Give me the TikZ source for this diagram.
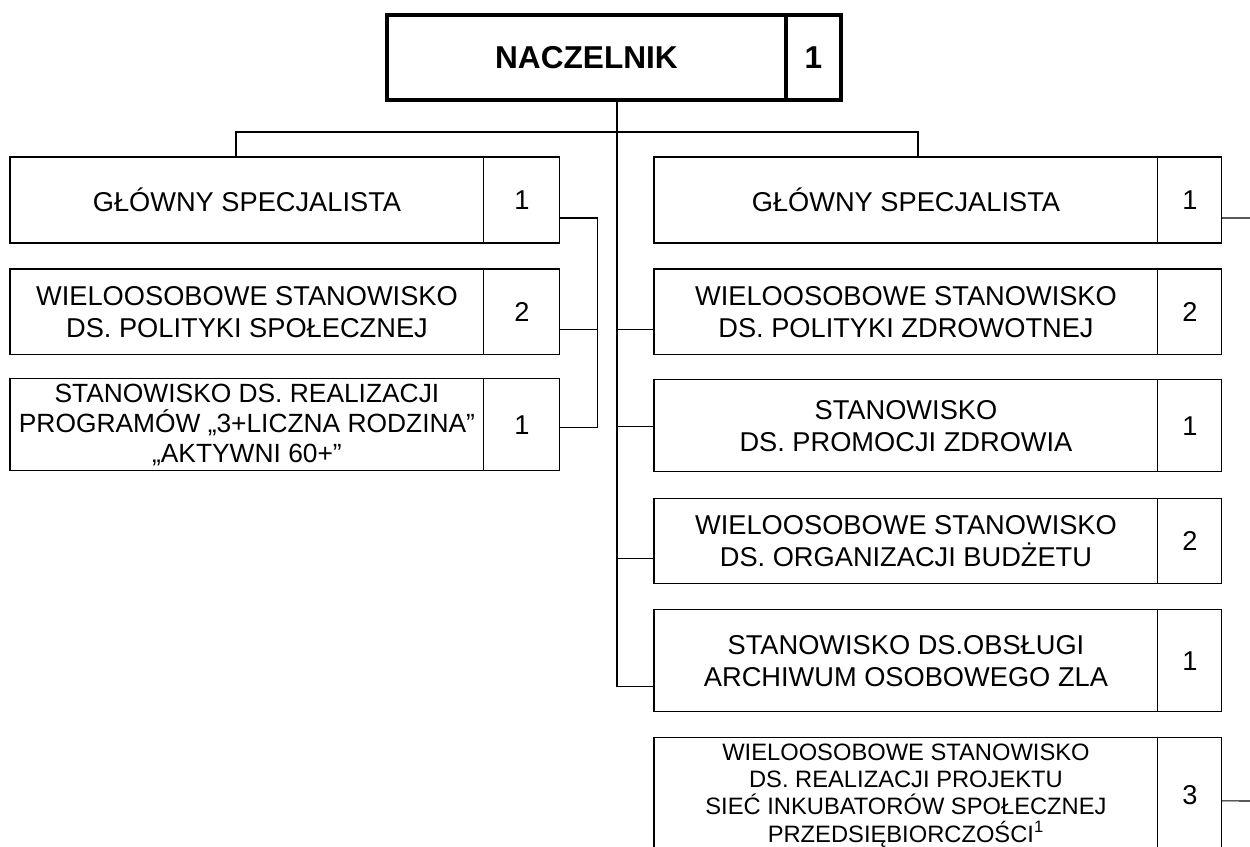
\documentclass[tikz,border=0pt]{standalone}
\usepackage{fontspec}
\setmainfont{Liberation Sans}
\usepackage{tikz}
\usetikzlibrary{positioning, calc}

\begin{document}
\begin{tikzpicture}[
    x=0.02cm, y=-0.02cm,
    cell/.style={rectangle, draw=black, line width=0.6pt, inner sep=0pt, outer sep=0pt,
                 align=center, font=\fontsize{15.5}{18}\selectfont},
    lcell/.style={cell, minimum width=9.48cm, minimum height=1.72cm},
    lnum/.style={cell, minimum width=1.52cm, minimum height=1.72cm},
    rcell/.style={cell, minimum width=10.08cm, minimum height=1.72cm},
    rnum/.style={cell, minimum width=1.28cm, minimum height=1.72cm},
    bossbox/.style={cell, line width=2.3pt, minimum height=1.7cm, font=\fontsize{18}{20}\selectfont\bfseries},
    link/.style={line width=0.6pt}
]
    \clip (0,0) rectangle (1250,846);

    % Naczelnik
    \node[bossbox, minimum width=7.98cm, anchor=north west] (chief) at (387,15) {NACZELNIK};
    \node[bossbox, minimum width=1.1cm, right=0pt of chief] (chiefnum) {1};

    % Left column
    \node[lcell, anchor=north west] (ls1) at (10,157) {GŁÓWNY SPECJALISTA};
    \node[lnum, right=0pt of ls1] (ls1num) {1};
    \node[lcell, below=0.52cm of ls1] (ls2) {WIELOOSOBOWE STANOWISKO\\DS. POLITYKI SPOŁECZNEJ};
    \node[lnum, right=0pt of ls2] (ls2num) {2};
    \node[lcell, minimum height=1.84cm, below=0.48cm of ls2, font=\fontsize{15}{17}\selectfont] (ls3)
        {STANOWISKO DS. REALIZACJI\\PROGRAMÓW „3+LICZNA RODZINA”\\„AKTYWNI 60+”};
    \node[lnum, minimum height=1.84cm, right=0pt of ls3] (ls3num) {1};

    % Right column
    \node[rcell, anchor=north west] (rs1) at (654,157) {GŁÓWNY SPECJALISTA};
    \node[rnum, right=0pt of rs1] (rs1num) {1};
    \node[rcell, below=0.52cm of rs1] (rs2) {WIELOOSOBOWE STANOWISKO\\DS. POLITYKI ZDROWOTNEJ};
    \node[rnum, right=0pt of rs2] (rs2num) {2};
    \node[rcell, minimum height=1.84cm, below=0.5cm of rs2] (rs3) {STANOWISKO\\DS. PROMOCJI ZDROWIA};
    \node[rnum, minimum height=1.84cm, right=0pt of rs3] (rs3num) {1};
    \node[rcell, minimum height=1.7cm, below=0.54cm of rs3] (rs4) {WIELOOSOBOWE STANOWISKO\\DS. ORGANIZACJI BUDŻETU};
    \node[rnum, minimum height=1.7cm, right=0pt of rs4] (rs4num) {2};
    \node[rcell, minimum height=2.04cm, below=0.52cm of rs4] (rs5) {STANOWISKO DS.OBSŁUGI\\ARCHIWUM OSOBOWEGO ZLA};
    \node[rnum, minimum height=2.04cm, right=0pt of rs5] (rs5num) {1};
    \node[rcell, minimum height=2.3cm, below=0.52cm of rs5, font=\fontsize{13.5}{15.5}\selectfont] (rs6)
        {WIELOOSOBOWE STANOWISKO\\DS. REALIZACJI PROJEKTU\\SIEĆ INKUBATORÓW SPOŁECZNEJ\\PRZEDSIĘBIORCZOŚCI\textsuperscript{1}};
    \node[rnum, minimum height=2.3cm, right=0pt of rs6] (rs6num) {3};

    % Connectors
    \coordinate (split) at (617,132);
    \coordinate (rightA) at (1250,218);
    \coordinate (rightB) at (1250,801);
    \draw[link] (chief.south -| split) |- ($(rs5.south west)+(0,-25)$);
    \draw[link] ($(ls1.north west)+(226,0)$) |- (split) -| ($(rs1.north west)+(264,0)$);
    \coordinate (r2) at ($(rs2.south west)+(0,-25)$);
    \coordinate (r3) at ($(rs3.south west)+(0,-45)$);
    \coordinate (r4) at ($(rs4.south west)+(0,-25)$);
    \draw[link] (r2) -- (r2 -| split);
    \draw[link] (r3) -- (r3 -| split);
    \draw[link] (r4) -- (r4 -| split);

    % Left group
    \draw[link] ($(ls1num.south east)+(0,-25)$) -- ++(38,0) |- ($(ls3num.south east)+(0,-43)$);
    \draw[link] ($(ls2num.south east)+(0,-25)$) -- ++(38,0);

    % Off to the right
    \draw[link] ($(rs1num.south east)+(0,-25)$) -- (rightA);
    \draw[link] ($(rs6num.north east)+(0,63)$) -- (rightB);

\end{tikzpicture}
\end{document}
